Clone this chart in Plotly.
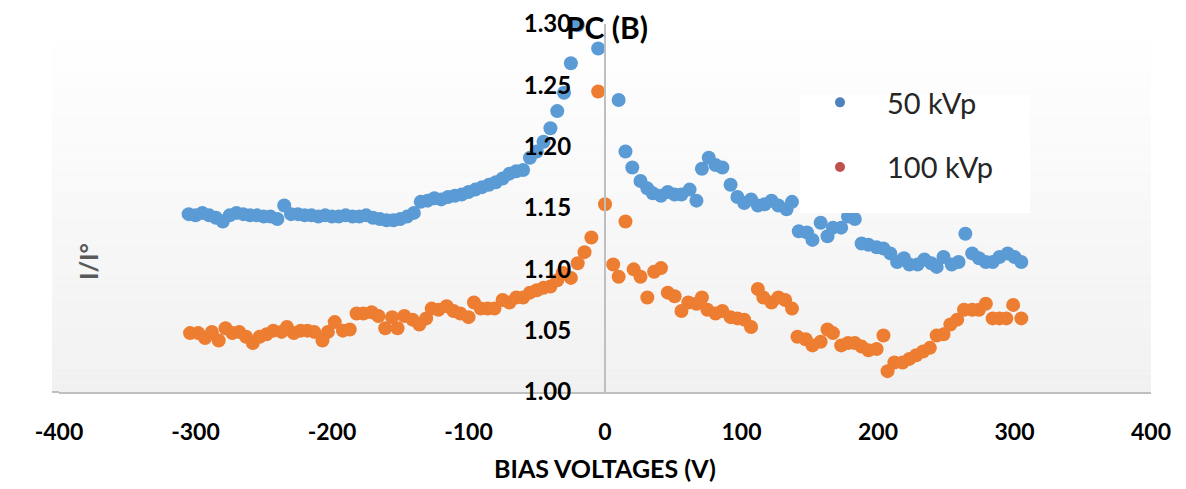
import plotly.graph_objects as go

# ---------------- data ----------------
blue_v = [-305, -300, -295, -290, -285, -280, -275, -270, -265, -260,
          -255, -250, -245, -240, -235, -230, -225, -220, -215, -210,
          -205, -200, -195, -190, -185, -180, -175, -170, -165, -160,
          -155, -150, -145, -140, -135, -130, -125, -120, -115, -110,
          -105, -100, -95, -90, -85, -80, -75, -70, -65, -60,
          -55, -50, -45, -40, -35, -30, -25, -20, -5,
          10, 15, 20, 26, 31, 35, 41, 46, 51, 56,
          62, 67, 71, 76, 81, 86, 92, 97, 102, 107,
          112, 117, 122, 127, 133, 137, 142, 148, 152, 158,
          163, 167, 173, 178, 183, 188, 193, 199, 204, 209,
          214, 219, 223, 229, 234, 239, 243, 248, 254, 259,
          264, 269, 274, 279, 284, 289, 295, 300, 305]
blue_i = [1.145, 1.144, 1.146, 1.144, 1.142, 1.139, 1.144, 1.146, 1.145, 1.144,
          1.144, 1.143, 1.143, 1.141, 1.152, 1.145, 1.145, 1.144, 1.144, 1.143,
          1.144, 1.143, 1.143, 1.144, 1.143, 1.143, 1.144, 1.142, 1.141, 1.140,
          1.140, 1.141, 1.143, 1.146, 1.155, 1.156, 1.158, 1.157, 1.159, 1.160,
          1.161, 1.163, 1.165, 1.167, 1.169, 1.171, 1.174, 1.178, 1.180, 1.181,
          1.191, 1.196, 1.204, 1.215, 1.229, 1.244, 1.268, 1.299, 1.280,
          1.238, 1.196, 1.183, 1.172, 1.166, 1.162, 1.160, 1.163, 1.161, 1.161,
          1.165, 1.156, 1.182, 1.191, 1.185, 1.183, 1.169, 1.159, 1.154, 1.157,
          1.152, 1.153, 1.156, 1.152, 1.149, 1.155, 1.131, 1.130, 1.124, 1.138,
          1.127, 1.134, 1.134, 1.143, 1.141, 1.121, 1.120, 1.118, 1.117, 1.113,
          1.106, 1.109, 1.104, 1.104, 1.108, 1.105, 1.102, 1.110, 1.104, 1.106,
          1.129, 1.113, 1.109, 1.106, 1.106, 1.110, 1.113, 1.110, 1.106]

orange_v = [-304, -298, -293, -288, -283, -278, -273, -268, -263, -258,
            -253, -248, -243, -237, -233, -228, -223, -218, -213, -207,
            -203, -198, -192, -187, -182, -177, -171, -166, -161, -156,
            -152, -147, -141, -136, -131, -127, -122, -116, -111, -106,
            -100, -96, -91, -86, -81, -75, -70, -65, -60, -55,
            -50, -45, -40, -35, -31, -25, -20, -15, -10, -5,
            0, 6, 10, 15, 21, 26, 31, 36, 41, 46,
            51, 56, 61, 67, 71, 75, 81, 86, 92, 97,
            102, 107, 112, 116, 122, 127, 132, 137, 141, 147,
            152, 158, 163, 167, 173, 178, 183, 188, 193, 199,
            204, 207, 212, 218, 223, 228, 233, 238, 243, 248,
            253, 258, 263, 269, 274, 279, 284, 289, 294, 299, 305]
orange_i = [1.048, 1.048, 1.044, 1.049, 1.042, 1.052, 1.048, 1.049, 1.045, 1.040,
            1.045, 1.047, 1.050, 1.049, 1.053, 1.048, 1.050, 1.050, 1.049, 1.042,
            1.049, 1.057, 1.050, 1.051, 1.064, 1.064, 1.065, 1.062, 1.052, 1.061,
            1.052, 1.062, 1.059, 1.055, 1.060, 1.068, 1.067, 1.070, 1.066, 1.064,
            1.061, 1.073, 1.068, 1.068, 1.068, 1.075, 1.073, 1.077, 1.077, 1.081,
            1.083, 1.085, 1.086, 1.091, 1.097, 1.093, 1.105, 1.114, 1.126, 1.245,
            1.153, 1.104, 1.094, 1.139, 1.100, 1.094, 1.077, 1.098, 1.101, 1.081,
            1.078, 1.066, 1.073, 1.072, 1.077, 1.067, 1.064, 1.066, 1.061, 1.060,
            1.059, 1.053, 1.084, 1.077, 1.073, 1.077, 1.075, 1.068, 1.045, 1.043,
            1.038, 1.041, 1.051, 1.048, 1.038, 1.040, 1.040, 1.037, 1.034, 1.035,
            1.046, 1.017, 1.024, 1.024, 1.027, 1.030, 1.033, 1.036, 1.046, 1.047,
            1.055, 1.059, 1.067, 1.067, 1.067, 1.072, 1.060, 1.060, 1.060, 1.071, 1.060]

x_ticks = [-400, -300, -200, -100, 0, 100, 200, 300, 400]
y_ticks = [1.00, 1.05, 1.10, 1.15, 1.20, 1.25, 1.30]
series_names = ["50 kVp", "100 kVp"]
title_text = "PC (B)"
x_title = "BIAS VOLTAGES (V)"
y_title = "I/I°"

# ---------------- figure ----------------
FONT = "Lato"
W, H = 1186, 489
OFF = 8                     # page body margin
SL, SR, ST, SB = 59, 1151, 24, 392   # plot area in screen pixels
pw, ph = SR - SL, SB - ST
ML, MT = SL - OFF, ST - OFF
MR, MB = W - (SR - OFF), H - (SB - OFF)


def px(xs):
    return (xs - SL) / pw


def py(ys):
    return (SB - ys) / ph


fig = go.Figure()

fig.add_trace(go.Scatter(x=blue_v, y=blue_i, mode="markers", showlegend=False,
                         marker=dict(color="#5B9BD5", size=14, line=dict(width=0)),
                         cliponaxis=False))
fig.add_trace(go.Scatter(x=orange_v, y=orange_i, mode="markers", showlegend=False,
                         marker=dict(color="#ED7D31", size=14, line=dict(width=0)),
                         cliponaxis=False))
# legend entries
fig.add_trace(go.Scatter(x=[None], y=[None], mode="markers", name=series_names[0],
                         legendgroup="a", marker=dict(color="#4F81BD", size=10)))
fig.add_trace(go.Scatter(x=[None], y=[None], mode="markers", name=series_names[1],
                         legendgroup="b", marker=dict(color="#C0504D", size=10)))

# plot-area gradient background
shapes = []
n = 40
for k in range(n):
    t = k / (n - 1)
    c = int(round(255 - 14 * t))
    shapes.append(dict(type="rect", xref="paper", yref="paper",
                       x0=px(52), x1=1, y0=1 - (k + 1) / n, y1=1 - k / n,
                       fillcolor=f"rgb({c},{c},{c})", line=dict(width=0), layer="below"))
# extend bottom axis line to the left edge of the plot background
shapes.append(dict(type="line", xref="paper", yref="paper", x0=px(52), x1=0, y0=0, y1=0,
                   line=dict(color="#BFBFBF", width=2), layer="below"))
# legend white box
shapes.append(dict(type="rect", xref="paper", yref="paper",
                   x0=px(800), x1=px(1030), y0=py(213), y1=py(95),
                   fillcolor="white", line=dict(width=0), layer="above"))

fig.update_layout(
    width=W, height=H,
    margin=dict(l=ML, r=MR, t=MT, b=MB, autoexpand=False),
    paper_bgcolor="white", plot_bgcolor="rgba(0,0,0,0)",
    font=dict(family=FONT, color="black"),
    shapes=shapes,
    showlegend=True,
    legend=dict(x=px(793), y=py(77), xanchor="left", yanchor="top",
                bgcolor="rgba(0,0,0,0)", font=dict(family=FONT, size=29, color="#262626"),
                itemwidth=84, tracegroupgap=24),
    xaxis=dict(range=[-400, 400], tickvals=x_ticks, ticktext=[str(v) for v in x_ticks],
               showgrid=False, zeroline=False, showline=True, linecolor="#BFBFBF",
               linewidth=2, ticks="outside", ticklen=18, tickcolor="rgba(0,0,0,0)",
               tickfont=dict(family=FONT, size=23, color="black", weight="bold")),
    yaxis=dict(range=[1.0, 1.3], tickvals=y_ticks, ticktext=[f"{v:.2f}" for v in y_ticks],
               anchor="free", position=0.5, showgrid=False, zeroline=False,
               showline=True, linecolor="#BFBFBF", linewidth=2,
               ticks="outside", ticklen=28, tickcolor="rgba(0,0,0,0)",
               tickfont=dict(family=FONT, size=24, color="black", weight="bold")),
    annotations=[
        dict(text=f"<b>{title_text}</b>", xref="paper", yref="paper", x=px(607), y=py(27),
             xanchor="center", yanchor="middle", showarrow=False,
             font=dict(family=FONT, size=30, color="black")),
        dict(text=f"<b>{x_title}</b>", xref="paper", yref="paper", x=px(605), y=py(468),
             xanchor="center", yanchor="middle", showarrow=False,
             font=dict(family=FONT, size=25, color="black")),
        dict(text=f"<b>{y_title}</b>", xref="paper", yref="paper", x=px(88), y=py(262),
             xanchor="center", yanchor="middle", showarrow=False, textangle=-90,
             font=dict(family=FONT, size=25, color="#595959")),
    ],
)

fig.write_html("out.html")
